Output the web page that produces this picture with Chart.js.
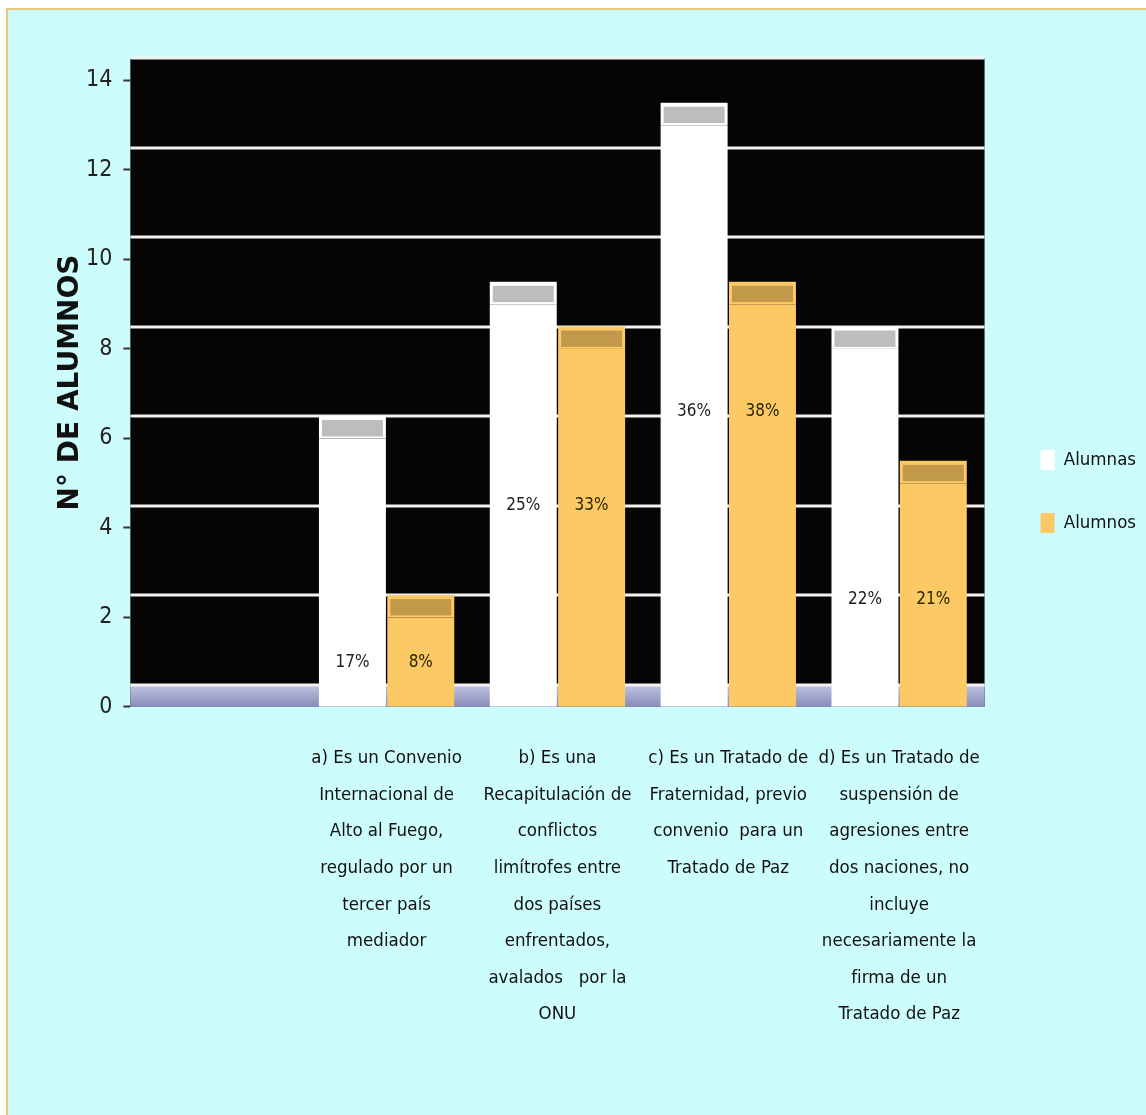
<!DOCTYPE html>
<html lang="es">
<head>
<meta charset="utf-8">
<title>N° de alumnos por respuesta</title>
<script src="https://cdn.jsdelivr.net/npm/chart.js@4.4.1/dist/chart.umd.min.js"></script>
<style>
  html, body { margin: 0; padding: 0; background: #ffffff; }
  #frame {
    position: absolute; left: 6px; top: 8px; right: 0; bottom: 0;
    background: #cdfcfd;
    border-left: 2px solid #e8c77c; border-top: 2px solid #e8c77c;
  }
  #grafico { position: absolute; left: 0; top: 0; }
</style>
</head>
<body>
<div id="frame"></div>
<canvas id="grafico" width="1146" height="1115"></canvas>
<script>
// ===== datos =====
const CATEGORIAS = [
  '',
  ['a) Es un Convenio', 'Internacional de', 'Alto al Fuego,', 'regulado por un', 'tercer país', 'mediador'],
  ['b) Es una', 'Recapitulación de', 'conflictos', 'limítrofes entre', 'dos países', 'enfrentados,', 'avalados   por la', 'ONU'],
  ['c) Es un Tratado de', 'Fraternidad, previo', 'convenio  para un', 'Tratado de Paz'],
  ['d) Es un Tratado de', 'suspensión de', 'agresiones entre', 'dos naciones, no', 'incluye', 'necesariamente la', 'firma de un', 'Tratado de Paz']
];
const ALUMNAS = [null, 6, 9, 13, 8];
const ALUMNOS = [null, 2, 8, 9, 5];
const Y_TICKS = [0, 2, 4, 6, 8, 10, 12, 14];

// altura (en unidades del eje) donde quedaron las etiquetas de porcentaje
const NIVEL_ETIQUETA = [null, 1, 4.5, 6.6, 2.4];

const NARROW = "'Liberation Sans Narrow', 'DejaVu Sans Condensed', 'Arial Narrow', sans-serif";
const FONDO_3D = 0.5;   // desplazamiento de la pared del fondo / tapas
const BLANCO = '#ffffff';
const ORO    = '#fdc964';

const ESTILO = [
  { cara: BLANCO, tapa: '#bdbdbd', texto: '#1e1e1e' },
  { cara: ORO,    tapa: '#c2994b', texto: '#2a2600' }
];

function pct(serie) {
  const total = serie.reduce((s, v) => s + (v || 0), 0);
  return serie.map(v => v == null ? '' : Math.round(v / total * 100) + '%');
}

// pared negra, piso y líneas de división desplazadas (efecto 3D de Excel)
const escena3D = {
  id: 'escena3D',
  beforeDatasetsDraw(chart) {
    const { ctx, chartArea: a, scales: { y } } = chart;
    ctx.save();
    ctx.fillStyle = '#050505';
    ctx.fillRect(a.left, a.top, a.width, a.height);

    const pisoTop = y.getPixelForValue(FONDO_3D);
    const pisoBot = y.getPixelForValue(0);
    const g = ctx.createLinearGradient(0, pisoTop, 0, pisoBot);
    g.addColorStop(0, '#c1c4e2');
    g.addColorStop(1, '#878cb8');
    ctx.fillStyle = g;
    ctx.fillRect(a.left, pisoTop, a.width, pisoBot - pisoTop);

    ctx.strokeStyle = '#f2f2f2';
    ctx.lineWidth = 3;
    Y_TICKS.forEach(t => {
      const py = Math.round(y.getPixelForValue(t + FONDO_3D));
      ctx.beginPath();
      ctx.moveTo(a.left, py);
      ctx.lineTo(a.right, py);
      ctx.stroke();
    });
    ctx.restore();
  },
  afterDatasetsDraw(chart) {
    const { ctx, scales: { y } } = chart;
    ctx.save();
    chart.data.datasets.forEach((ds, i) => {
      const st = ESTILO[i];
      const textos = pct(ds.data);
      chart.getDatasetMeta(i).data.forEach((bar, j) => {
        const v = ds.data[j];
        if (v == null) return;
        const { x, width } = bar.getProps(['x', 'width'], true);
        const top = y.getPixelForValue(v + FONDO_3D);
        const base = y.getPixelForValue(v);
        ctx.fillStyle = st.cara;
        ctx.fillRect(x - width / 2, top, width, base - top);
        ctx.fillStyle = st.tapa;
        ctx.fillRect(x - width / 2 + 3, top + 4, width - 6, base - top - 6);

        const nivel = NIVEL_ETIQUETA[j];
        if (nivel == null) return;
        ctx.font = '17px ' + NARROW;
        ctx.textAlign = 'center';
        ctx.textBaseline = 'middle';
        ctx.fillStyle = st.texto;
        ctx.fillText(textos[j], x, y.getPixelForValue(nivel));
      });
    });
    ctx.restore();
  }
};

new Chart(document.getElementById('grafico'), {
  type: 'bar',
  data: {
    labels: CATEGORIAS,
    datasets: [
      { label: 'Alumnas', data: ALUMNAS, backgroundColor: BLANCO, borderWidth: 0 },
      { label: 'Alumnos', data: ALUMNOS, backgroundColor: ORO, borderWidth: 0 }
    ]
  },
  options: {
    responsive: false,
    animation: false,
    categoryPercentage: 0.8,
    barPercentage: 0.98,
    layout: { padding: { top: 58, left: 57, right: 0, bottom: 49 } },
    plugins: {
      tooltip: { enabled: false },
      legend: {
        position: 'right',
        align: 'start',
        fullSize: false,
        title: { display: true, text: '', padding: { top: 337, bottom: 0 }, font: { size: 10 } },
        labels: {
          color: '#111',
          font: { family: NARROW, size: 18.5 },
          boxWidth: 14,
          boxHeight: 20,
          padding: 43
        }
      }
    },
    scales: {
      x: {
        grid: { display: false, drawTicks: false },
        border: { display: false },
        ticks: {
          color: '#111',
          autoSkip: false,
          maxRotation: 0,
          padding: 33,
          font: { family: NARROW, size: 18.5, lineHeight: 1.98 }
        }
      },
      y: {
        min: 0,
        max: 14.5,
        afterBuildTicks: axis => { axis.ticks = Y_TICKS.map(value => ({ value })); },
        afterFit: s => { s.width -= 10; },
        grid: { drawOnChartArea: false, drawTicks: true, tickLength: 7, tickColor: '#333', tickWidth: 2 },
        border: { display: false },
        ticks: { color: '#222', padding: 11, font: { family: NARROW, size: 23 } },
        title: {
          display: true,
          text: 'N° DE ALUMNOS',
          color: '#111',
          padding: { top: 0, bottom: 0 },
          font: { family: "'DejaVu Sans', 'Liberation Sans', sans-serif", size: 28, weight: 'bold', lineHeight: 1 }
        }
      },
      hueco: {
        position: 'right',
        grid: { display: false },
        border: { display: false },
        ticks: { display: false },
        afterFit: s => { s.width = 13; }
      }
    }
  },
  plugins: [escena3D]
});
</script>
</body>
</html>
